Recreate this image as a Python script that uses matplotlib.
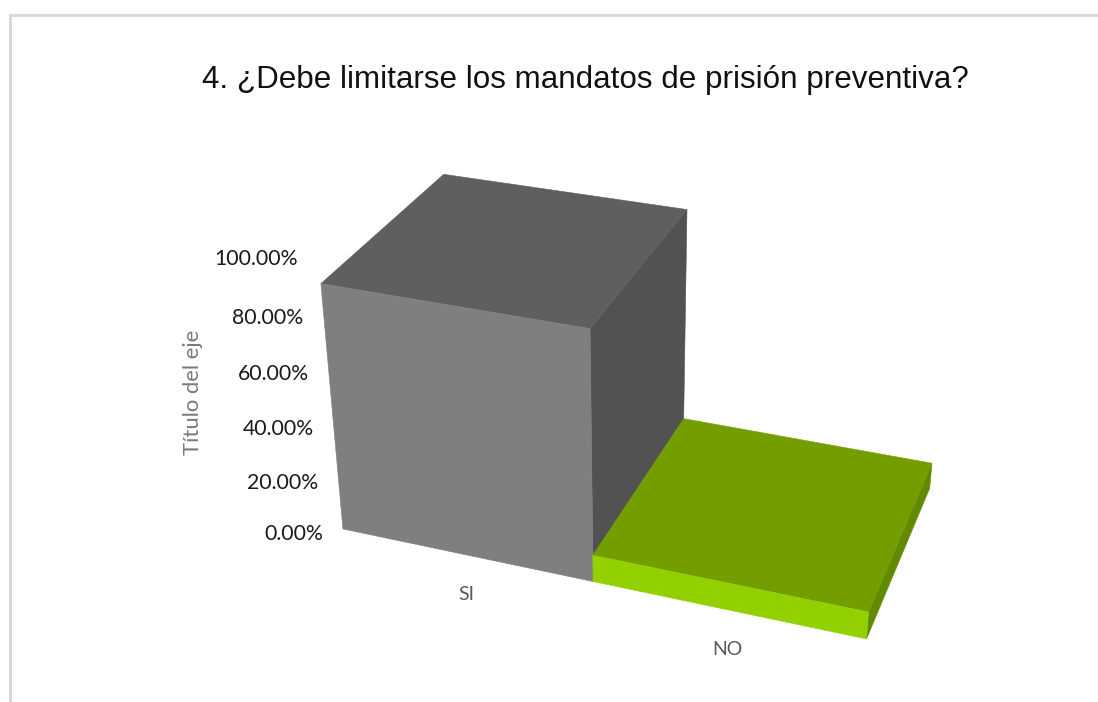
import numpy as np
import matplotlib
matplotlib.use("Agg")
import matplotlib.pyplot as plt
from matplotlib.patches import Polygon

# --- data ---
title = "4. ¿Debe limitarse los mandatos de prisión preventiva?"
categories = ["SI", "NO"]
values = [90.0, 10.0]
tick_values = [0, 20, 40, 60, 80, 100]
tick_labels = ["0.00%", "20.00%", "40.00%", "60.00%", "80.00%", "100.00%"]
axis_title = "Título del eje"

# --- style ---
W, H = 1098, 702
faces = {
    "SI": dict(front="#7f7f7f", top="#5f5f5f", side="#525252"),
    "NO": dict(front="#92d000", top="#749e00", side="#628a00"),
}

# --- projection: (category slot, percent, depth) -> canvas pixel, a perspective
# camera calibrated on the chart box as it appears in the reference
camera_world = np.array([
    (0, 0, 0), (1, 0, 0), (2, 0, 0), (0, 90, 0), (1, 90, 0), (0, 90, 1),
    (1, 90, 1), (1, 10, 1), (2, 0, 1), (2, 10, 0), (2, 10, 1), (1, 10, 0),
], float)
camera_pixel = np.array([
    (343, 528), (593, 581), (866, 640), (321, 283), (592, 327), (443, 174),
    (686, 211), (684, 421), (931, 482), (867, 613), (932, 466), (593, 557),
], float)


def fit_camera(world, pixel):
    rows = []
    for (u, v, w), (x, y) in zip(world, pixel):
        rows.append([u, v, w, 1, 0, 0, 0, 0, -x * u, -x * v, -x * w, -x])
        rows.append([0, 0, 0, 0, u, v, w, 1, -y * u, -y * v, -y * w, -y])
    return np.linalg.svd(np.array(rows))[2][-1].reshape(3, 4)


# normalise the world scale so the fit is well conditioned
scale = np.array([1.0, 0.01, 1.0])
P = fit_camera(camera_world * scale, camera_pixel / 1000.0)


def project(u, v, w):
    p = P @ np.array([u, v * 0.01, w, 1.0])
    return p[0] / p[2] * 1000.0, p[1] / p[2] * 1000.0


fig = plt.figure(figsize=(W / 100, H / 100), dpi=100, facecolor="white")
ax = fig.add_axes([0, 0, 1, 1])
ax.set_xlim(0, W)
ax.set_ylim(H, 0)
ax.axis("off")

# chart frame, cropped by the image on the right and bottom
ax.plot([9.5, 9.5, W], [H, 14.5, 14.5], color="#d9d9d9", lw=2.2,
        solid_joinstyle="miter", zorder=0)

# bars
for i, (cat, val) in enumerate(zip(categories, values)):
    c = faces[cat]
    a, b = i, i + 1
    quad_front = [project(a, 0, 0), project(b, 0, 0), project(b, val, 0), project(a, val, 0)]
    quad_top = [project(a, val, 0), project(b, val, 0), project(b, val, 1), project(a, val, 1)]
    quad_side = [project(b, 0, 0), project(b, 0, 1), project(b, val, 1), project(b, val, 0)]
    for quad, col in ((quad_side, c["side"]), (quad_top, c["top"]), (quad_front, c["front"])):
        ax.add_patch(Polygon(quad, closed=True, facecolor=col, edgecolor=col, lw=0.4, zorder=2 + i))

# value axis labels
for val, lab in zip(tick_values, tick_labels):
    x, y = project(0, val, 0)
    ax.text(x - 20, y + 5, lab, ha="right", va="center", fontsize=15.3,
            family="Lato", color="#1a1a1a")

# category labels
for i, cat in enumerate(categories):
    x, y = project(i + 0.5, 0, 0)
    ax.text(x + 1, y + 40, cat, ha="center", va="center", fontsize=14,
            family="Lato", color="#595959")

ax.text(193, 392, axis_title, rotation=90, ha="center", va="center",
        fontsize=15.8, family="Lato", color="#7a7a7a")

ax.text(585.5, 88, title, ha="center", va="baseline", fontsize=22.6,
        family="Liberation Sans", color="#111111")

fig.savefig("out.png", dpi=100, facecolor="white")
